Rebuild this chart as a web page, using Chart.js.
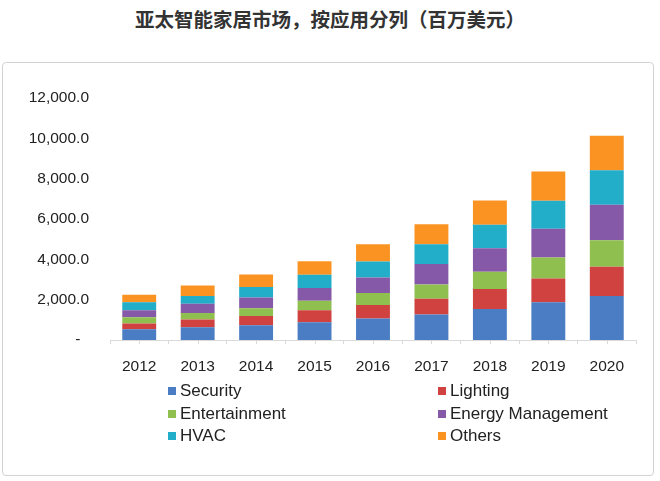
<!DOCTYPE html>
<html>
<head>
<meta charset="utf-8">
<script src="https://cdn.jsdelivr.net/npm/chart.js@4/dist/chart.umd.min.js"></script>
<style>
  html, body { margin: 0; padding: 0; background: #fff; }
  body { width: 660px; height: 481px; position: relative; overflow: hidden; }
  #title {
    position: absolute; left: 0; top: 4px; width: 660px; text-align: center;
    font: bold 19.5px "Noto Sans CJK SC", sans-serif; color: #333;
  }
  #frame {
    position: absolute; left: 2px; top: 62px; width: 652px; height: 414px;
    border: 1px solid #d3d3d3; border-radius: 4px; box-sizing: border-box;
  }
  #wrap { position: absolute; left: 0; top: 62px; width: 656px; height: 318px; }
  #legend {
    position: absolute; left: 168px; top: 379px; width: 480px;
    display: grid; grid-template-columns: 270px 210px; row-gap: 0;
    font: 17px "Liberation Sans", Arial, sans-serif; color: #222;
  }
  #legend div { height: 22.5px; line-height: 23px; white-space: nowrap; }
  #legend span { display: inline-block; width: 8px; height: 8px; margin-right: 4px; vertical-align: 1px; }
</style>
</head>
<body>
<div id="title">亚太智能家居市场，按应用分列（百万美元）</div>
<div id="frame"></div>
<div id="wrap"><canvas id="c" width="656" height="318"></canvas></div>
<div id="legend"></div>
<script>
// values, millions of USD
var years = ['2012', '2013', '2014', '2015', '2016', '2017', '2018', '2019', '2020'];
var security      = [533, 632, 731, 879, 1062, 1259, 1541, 1867, 2183];
var lighting      = [282, 380, 464, 593, 676, 790, 987, 1185, 1446];
var entertainment = [311, 331, 375, 479, 593, 706, 855, 1037, 1319];
var energyMgmt    = [346, 459, 543, 627, 770, 1008, 1170, 1432, 1758];
var hvac          = [395, 381, 514, 657, 790, 988, 1165, 1382, 1714];
var others        = [380, 523, 622, 676, 860, 987, 1205, 1452, 1713];
var yTicks = [0, 2000, 4000, 6000, 8000, 10000, 12000];

var series = [
  { label: 'Security', data: security, color: '#4a7dc3' },
  { label: 'Lighting', data: lighting, color: '#cf4240' },
  { label: 'Entertainment', data: entertainment, color: '#8fbf4e' },
  { label: 'Energy Management', data: energyMgmt, color: '#8659a8' },
  { label: 'HVAC', data: hvac, color: '#22adc9' },
  { label: 'Others', data: others, color: '#fb9322' }
];

var FONT = '"Liberation Sans", Arial, sans-serif';

/* small tick marks under each category centre (the grid already draws the boundaries) */
var centreTicks = {
  id: 'centreTicks',
  afterDraw: function (c) {
    var x = c.scales.x, g = c.ctx;
    g.save();
    g.strokeStyle = '#d9d9d9';
    g.lineWidth = 1;
    g.beginPath();
    years.forEach(function (y, i) {
      var px = Math.round(x.getPixelForValue(i)) + 0.5;
      g.moveTo(px, x.top);
      g.lineTo(px, x.top + 4);
    });
    g.stroke();
    g.restore();
  }
};

new Chart(document.getElementById('c'), {
  type: 'bar',
  data: {
    labels: years,
    datasets: series.map(function (s) {
      return {
        label: s.label, data: s.data, backgroundColor: s.color,
        categoryPercentage: 0.58, barPercentage: 1, borderWidth: 0
      };
    })
  },
  options: {
    responsive: false,
    animation: false,
    layout: { padding: { top: 36, right: 20, left: 0, bottom: 0 } },
    plugins: { legend: { display: false }, tooltip: { enabled: false } },
    scales: {
      x: {
        stacked: true,
        afterFit: function (s) { s.height = 40; },
        grid: { display: true, drawOnChartArea: false, tickLength: 4, color: '#d9d9d9' },
        border: { display: true, color: '#d9d9d9' },
        ticks: { color: '#222', padding: 13, font: { family: FONT, size: 15.5 } }
      },
      y: {
        stacked: true,
        min: 0, max: 12000,
        afterFit: function (s) { s.width = 110; },
        afterBuildTicks: function (s) { s.ticks = yTicks.map(function (v) { return { value: v }; }); },
        grid: { display: false, drawTicks: false },
        border: { display: false },
        ticks: {
          color: '#222', padding: 21, font: { family: FONT, size: 15.5 },
          callback: function (v) {
            if (v === 0) return '-  ';
            return v.toLocaleString('en-US', { minimumFractionDigits: 1, maximumFractionDigits: 1 });
          }
        }
      }
    }
  },
  plugins: [centreTicks]
});

var lg = document.getElementById('legend');
series.forEach(function (s) {
  var d = document.createElement('div');
  d.innerHTML = '<span style="background:' + s.color + '"></span>' + s.label;
  lg.appendChild(d);
});
</script>
</body>
</html>
